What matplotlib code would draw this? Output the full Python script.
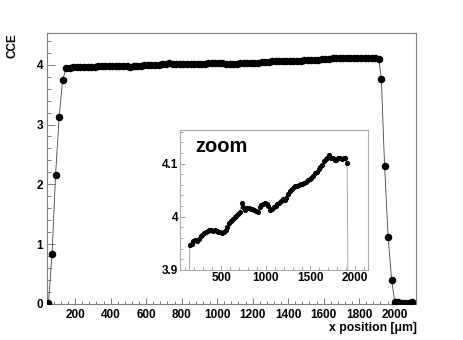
import matplotlib
matplotlib.use("Agg")
import matplotlib.pyplot as plt
from matplotlib.ticker import MultipleLocator

plt.rcParams['font.family'] = ['Liberation Sans', 'DejaVu Sans']

# scan positions (um) and charge collection efficiency
rise_x = [50, 70, 90, 110, 130]
rise_cce = [0.02, 0.83, 2.16, 3.12, 3.75]

plateau_x = [150, 170, 190, 210, 230, 250, 270, 290, 310, 330,
             350, 370, 390, 410, 430, 450, 470, 490, 510, 530,
             550, 570, 590, 610, 630, 650, 670, 690, 710, 730,
             750, 770, 790, 810, 830, 850, 870, 890, 910, 930,
             950, 970, 990, 1010, 1030, 1050, 1070, 1090, 1110, 1130,
             1150, 1170, 1190, 1210, 1230, 1250, 1270, 1290, 1310, 1330,
             1350, 1370, 1390, 1410, 1430, 1450, 1470, 1490, 1510, 1530,
             1550, 1570, 1590, 1610, 1630, 1650, 1670, 1690, 1710, 1730,
             1750, 1770, 1790, 1810, 1830, 1850, 1870, 1890, 1910]
plateau_cce = [3.947, 3.949, 3.955, 3.957, 3.954, 3.958, 3.963, 3.965, 3.969, 3.972,
               3.973, 3.976, 3.975, 3.974, 3.975, 3.973, 3.972, 3.972, 3.970, 3.971,
               3.975, 3.980, 3.988, 3.992, 3.996, 3.999, 4.002, 4.005, 4.009, 4.026,
               4.018, 4.013, 4.016, 4.017, 4.014, 4.015, 4.012, 4.010, 4.009, 4.018,
               4.022, 4.024, 4.025, 4.024, 4.021, 4.013, 4.015, 4.018, 4.020, 4.024,
               4.026, 4.030, 4.033, 4.031, 4.036, 4.042, 4.048, 4.053, 4.055, 4.057,
               4.058, 4.060, 4.061, 4.062, 4.063, 4.066, 4.069, 4.071, 4.072, 4.077,
               4.082, 4.085, 4.089, 4.094, 4.098, 4.104, 4.108, 4.110, 4.116, 4.110,
               4.111, 4.107, 4.106, 4.110, 4.111, 4.109, 4.111, 4.110, 4.101]

fall_x = [1925, 1943, 1963, 1983, 2000, 2020, 2040, 2060, 2080, 2100]
fall_cce = [3.76, 2.31, 1.12, 0.40, 0.04, 0.03, 0.02, 0.02, 0.02, 0.03]

x_all = rise_x + plateau_x + fall_x
cce_all = rise_cce + plateau_cce + fall_cce

fig = plt.figure(figsize=(4.63, 3.40), dpi=100)

spine_col = '#808080'
FS = 8.5

# ---- main axes ----
ax = fig.add_axes([46.7/463, 1-304/340, 369.3/463, 271/340])
ax.plot(x_all, cce_all, color='#444444', lw=0.6, marker='o', ms=4.4,
        mfc='black', mec='black', zorder=3)
ax.set_xlim(40, 2120)
ax.set_ylim(0, 4.53)
ax.xaxis.set_minor_locator(MultipleLocator(40))
ax.yaxis.set_minor_locator(MultipleLocator(0.2))
ax.tick_params(which='both', direction='in', top=False, right=False,
               colors=spine_col, labelcolor='black', width=0.7)
ax.tick_params(axis='x', which='major', length=4.5, pad=3.5)
ax.tick_params(axis='x', which='minor', length=2.5)
ax.tick_params(axis='y', which='major', length=5.5, pad=2.5)
ax.tick_params(axis='y', which='minor', length=3)
ax.set_xticks([200, 400, 600, 800, 1000, 1200, 1400, 1600, 1800, 2000])
ax.set_xticklabels(['200', '400', '600', '800', '1000', '1200', '1400',
                    '1600', '1800', '2000'], fontsize=FS, fontweight='bold')
ax.set_yticks([0, 1, 2, 3, 4])
ax.set_yticklabels(['0', '1', '2', '3', '4'], fontsize=FS, fontweight='bold')
for s in ax.spines.values():
    s.set_color(spine_col)
    s.set_linewidth(0.8)

fig.text(12/463, 1-33/340, 'CCE', rotation=90, ha='center', va='top',
         fontsize=8.5, fontweight='bold')
fig.text(417/463, 1-328/340, 'x position [\u03bcm]', ha='right', va='center',
         fontsize=8.8, fontweight='bold')

# ---- inset ----
axi = fig.add_axes([180/463, 1-270/340, 187.7/463, 140/340])
axi.set_facecolor('white')
axi.plot(x_all, cce_all, color='#999999', lw=0.6, marker='o', ms=2.7,
         mfc='black', mec='black', zorder=3)
axi.set_xlim(40, 2140)
axi.set_ylim(3.9, 4.163)
axi.xaxis.set_minor_locator(MultipleLocator(100))
axi.yaxis.set_minor_locator(MultipleLocator(0.02))
axi.tick_params(which='both', direction='in', top=False, right=False,
                colors='#999999', labelcolor='black', width=0.6)
axi.tick_params(which='major', length=3.8)
axi.tick_params(which='minor', length=2)
axi.tick_params(axis='both', which='major', pad=1.5)
axi.set_xticks([500, 1000, 1500, 2000])
axi.set_xticklabels(['500', '1000', '1500', '2000'], fontsize=FS, fontweight='bold')
axi.set_yticks([3.9, 4.0, 4.1])
axi.set_yticklabels(['3.9', '4', '4.1'], fontsize=FS, fontweight='bold')
for s in axi.spines.values():
    s.set_color('#aaaaaa')
    s.set_linewidth(0.8)
axi.text(0.08, 0.88, 'zoom', transform=axi.transAxes, ha='left', va='center',
         fontsize=14.5, fontweight='bold')

fig.savefig('out.png', dpi=100)
